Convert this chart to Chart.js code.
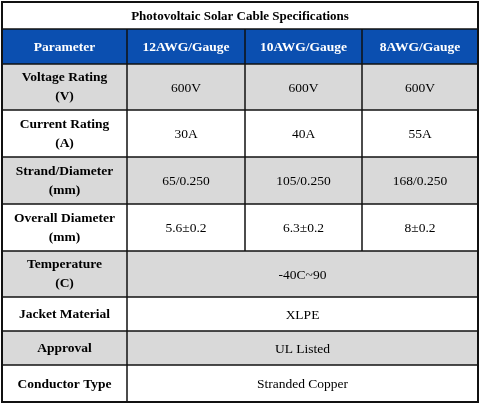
<!DOCTYPE html>
<html><head><meta charset="utf-8">
<script src="https://cdn.jsdelivr.net/npm/chart.js@4/dist/chart.umd.min.js"></script>
<style>html,body{margin:0;padding:0;background:#fff}#wrap{width:480px;height:411px}</style>
</head><body><div id="wrap"><canvas id="c"></canvas></div>
<script>
const title = "Photovoltaic Solar Cable Specifications";
const headers = ["Parameter", "12AWG/Gauge", "10AWG/Gauge", "8AWG/Gauge"];
const params = [["Voltage Rating","(V)"],["Current Rating","(A)"],["Strand/Diameter","(mm)"],["Overall Diameter","(mm)"],["Temperature","(C)"],["Jacket Material"],["Approval"],["Conductor Type"]];
const awg12 = ["600V","30A","65/0.250","5.6±0.2"];
const awg10 = ["600V","40A","105/0.250","6.3±0.2"];
const awg8  = ["600V","55A","168/0.250","8±0.2"];
const merged = ["-40C~90","XLPE","UL Listed","Stranded Copper"];

const colX = [2,127,245,362,478];
const rowY = [2,29,64,110,157,204,251,297,331,365,402];

const tablePlugin = {
  id:'table',
  afterDraw(chart){
    const ctx = chart.ctx;
    ctx.save();
    ctx.fillStyle='#fff';ctx.fillRect(0,0,480,411);
    ctx.textAlign='center';ctx.textBaseline='middle';
    const font=(s,b)=>`${b?'bold ':''}${s}px "Liberation Serif"`;
    // title
    ctx.fillStyle='#000';ctx.font=font(13,true);
    ctx.fillText(title,240,(rowY[0]+rowY[1])/2+1);
    // header
    ctx.fillStyle='#0b4fb0';ctx.fillRect(colX[0],rowY[1],colX[4]-colX[0],rowY[2]-rowY[1]);
    ctx.fillStyle='#fff';ctx.font=font(13.5,true);
    headers.forEach((h,i)=>ctx.fillText(h,(colX[i]+colX[i+1])/2,(rowY[1]+rowY[2])/2+1));
    params.forEach((p,r)=>{
      const y0=rowY[r+2],y1=rowY[r+3],cy=(y0+y1)/2;
      if(r%2===0){ctx.fillStyle='#d9d9d9';ctx.fillRect(colX[0],y0,colX[4]-colX[0],y1-y0);}
      ctx.fillStyle='#000';ctx.font=font(13.5,true);
      if(p.length===2){ctx.fillText(p[0],(colX[0]+colX[1])/2,cy-9);ctx.fillText(p[1],(colX[0]+colX[1])/2,cy+10);}
      else ctx.fillText(p[0],(colX[0]+colX[1])/2,cy+1);
      ctx.font=font(13.5,false);
      if(r<4){[awg12,awg10,awg8].forEach((a,i)=>ctx.fillText(a[r],(colX[i+1]+colX[i+2])/2,cy+1));}
      else ctx.fillText(merged[r-4],(colX[1]+colX[4])/2,cy+1);
    });
    // grid lines
    ctx.strokeStyle='#111';ctx.lineWidth=1.5;
    for(let i=1;i<rowY.length-1;i++){ctx.beginPath();ctx.moveTo(colX[0],rowY[i]);ctx.lineTo(colX[4],rowY[i]);ctx.stroke();}
    for(let i=1;i<4;i++){ctx.beginPath();ctx.moveTo(colX[i],rowY[1]);ctx.lineTo(colX[i],rowY[6]);ctx.stroke();}
    ctx.beginPath();ctx.moveTo(colX[1],rowY[6]);ctx.lineTo(colX[1],rowY[10]);ctx.stroke();
    ctx.lineWidth=2;ctx.strokeRect(colX[0],rowY[0],colX[4]-colX[0],rowY[10]-rowY[0]);
    ctx.restore();
  }
};
new Chart(document.getElementById('c'),{
  type:'bar',
  data:{labels:headers,datasets:[{data:[],label:title}]},
  options:{responsive:true,maintainAspectRatio:false,animation:false,
    plugins:{legend:{display:false},tooltip:{enabled:false}},
    scales:{x:{display:false},y:{display:false}}},
  plugins:[tablePlugin]
});
</script></body></html>
